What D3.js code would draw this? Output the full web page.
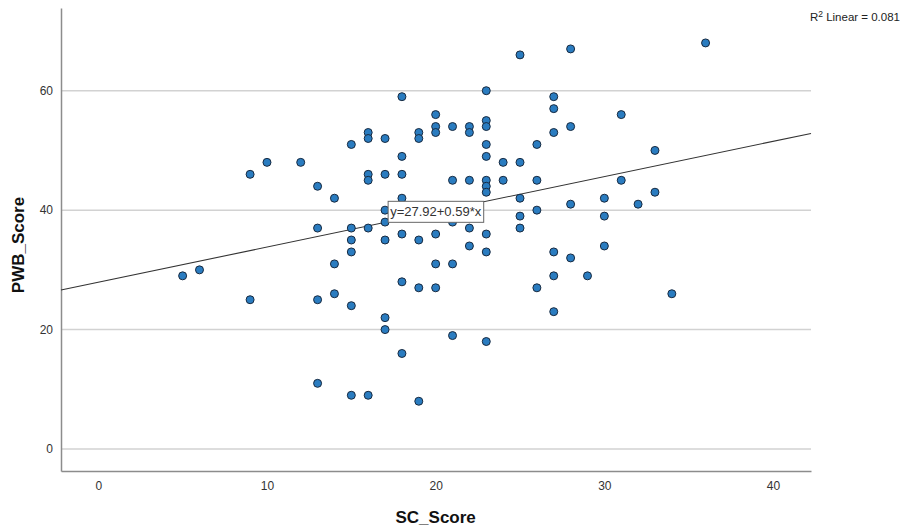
<!DOCTYPE html>
<html>
<head>
<meta charset="utf-8">
<script src="https://cdn.jsdelivr.net/npm/d3@7"></script>
<style>
  html, body { margin: 0; padding: 0; background: #fff; }
  svg { display: block; font-family: Arial, "Liberation Sans", sans-serif; }
</style>
</head>
<body>
<svg id="chart" width="903" height="532"></svg>
<script>
// SC_Score (x) and PWB_Score (y) for each respondent
const scScore = [
  5, 6, 9, 9, 10, 12,
  13, 13, 13, 13,
  14, 14, 14,
  15, 15, 15, 15, 15, 15,
  16, 16, 16, 16, 16, 16,
  17, 17, 17, 17, 17, 17, 17,
  18, 18, 18, 18, 18, 18, 18,
  19, 19, 19, 19, 19,
  20, 20, 20, 20, 20, 20,
  21, 21, 21, 21, 21,
  22, 22, 22, 22, 22,
  23, 23, 23, 23, 23, 23, 23, 23, 23, 23, 23,
  24, 24,
  25, 25, 25, 25, 25,
  26, 26, 26, 26,
  27, 27, 27, 27, 27, 27,
  28, 28, 28, 28,
  29, 30, 30, 30, 31, 31, 32, 33, 33, 34, 36
];
const pwbScore = [
  29, 30, 46, 25, 48, 48,
  44, 37, 25, 11,
  42, 31, 26,
  51, 37, 35, 33, 24, 9,
  53, 52, 46, 45, 37, 9,
  52, 46, 40, 38, 35, 22, 20,
  59, 49, 46, 42, 36, 28, 16,
  53, 52, 35, 27, 8,
  56, 54, 53, 36, 31, 27,
  54, 45, 38, 31, 19,
  54, 53, 45, 37, 34,
  60, 55, 54, 51, 49, 45, 44, 43, 36, 33, 18,
  48, 45,
  66, 48, 42, 39, 37,
  51, 45, 40, 27,
  59, 57, 53, 33, 29, 23,
  67, 54, 41, 32,
  29, 42, 39, 34, 56, 45, 41, 50, 43, 26, 68
];

// Fitted linear model: y = intercept + slope * x
const fitIntercept = 27.92;
const fitSlope = 0.59;
const rSquared = 0.081;

const xTicks = [0, 10, 20, 30, 40];
const yTicks = [0, 20, 40, 60];

const svg = d3.select("#chart");
const margin = { top: 8, right: 92, bottom: 61, left: 61 };
const W = 903, H = 532;
const iw = W - margin.left - margin.right;
const ih = H - margin.top - margin.bottom;

const x = d3.scaleLinear().domain([-2.21, 42.25]).range([0, iw]);
const y = d3.scaleLinear().domain([-3.68, 73.85]).range([ih, 0]);

const g = svg.append("g").attr("transform", `translate(${margin.left},${margin.top})`);

// Horizontal gridlines
g.append("g")
  .selectAll("line")
  .data(yTicks)
  .join("line")
  .attr("x1", 0).attr("x2", iw)
  .attr("y1", d => y(d)).attr("y2", d => y(d))
  .attr("stroke", "#d2d2d2")
  .attr("stroke-width", 1.5);

// Axes (labels only, no tick marks)
const xAxis = g.append("g")
  .attr("transform", `translate(0,${ih})`)
  .call(d3.axisBottom(x).tickValues(xTicks).tickSize(0).tickPadding(10).tickFormat(d3.format("d")));
xAxis.select(".domain").attr("stroke", "#8c8c8c").attr("stroke-width", 1.5);
xAxis.selectAll("text").attr("font-size", 12).attr("fill", "#333")
  .attr("font-family", "Arial, 'Liberation Sans', sans-serif");

const yAxis = g.append("g")
  .call(d3.axisLeft(y).tickValues(yTicks).tickSize(0).tickPadding(8).tickFormat(d3.format("d")));
yAxis.select(".domain").attr("stroke", "#8c8c8c").attr("stroke-width", 1.5);
yAxis.selectAll("text").attr("font-size", 12).attr("fill", "#333")
  .attr("font-family", "Arial, 'Liberation Sans', sans-serif");

// Fit line across the full x range
const [x0, x1] = x.domain();
g.append("line")
  .attr("x1", x(x0)).attr("y1", y(fitIntercept + fitSlope * x0))
  .attr("x2", x(x1)).attr("y2", y(fitIntercept + fitSlope * x1))
  .attr("stroke", "#333")
  .attr("stroke-width", 1.1);

// Scatter points
const points = scScore.map((v, i) => ({ sc: v, pwb: pwbScore[i] }));
g.append("g")
  .selectAll("circle")
  .data(points)
  .join("circle")
  .attr("cx", d => x(d.sc))
  .attr("cy", d => y(d.pwb))
  .attr("r", 4)
  .attr("fill", "#2a7cc0")
  .attr("stroke", "#182a40")
  .attr("stroke-width", 1);

// Equation label box on the fit line at the middle of the x range
const midX = 20;
const eqText = `y=${fitIntercept.toFixed(2)}+${fitSlope.toFixed(2)}*x`;
const eqG = g.append("g")
  .attr("transform", `translate(${x(midX)},${y(fitIntercept + fitSlope * midX)})`);
const eqLabel = eqG.append("text")
  .attr("text-anchor", "middle")
  .attr("dy", "0.35em")
  .attr("font-size", 13)
  .attr("fill", "#333")
  .text(eqText);
const bb = eqLabel.node().getBBox();
eqG.insert("rect", "text")
  .attr("x", bb.x - 2).attr("y", -10.5)
  .attr("width", bb.width + 4).attr("height", 21)
  .attr("fill", "#fff")
  .attr("stroke", "#666")
  .attr("stroke-width", 1);

// R squared note
const r2 = svg.append("text")
  .attr("x", 900).attr("y", 21)
  .attr("text-anchor", "end")
  .attr("font-size", 11.5)
  .attr("fill", "#222");
r2.append("tspan").text("R");
r2.append("tspan").attr("font-size", 8.5).attr("dy", -4).text("2");
r2.append("tspan").attr("dy", 4).text(` Linear = ${rSquared}`);

// Axis titles
svg.append("text")
  .attr("x", margin.left + x(20)).attr("y", 523)
  .attr("text-anchor", "middle")
  .attr("font-size", 17).attr("font-weight", "bold").attr("fill", "#111")
  .text("SC_Score");

svg.append("text")
  .attr("transform", `translate(24,245) rotate(-90)`)
  .attr("text-anchor", "middle")
  .attr("font-size", 17).attr("font-weight", "bold").attr("fill", "#111")
  .text("PWB_Score");
</script>
</body>
</html>
